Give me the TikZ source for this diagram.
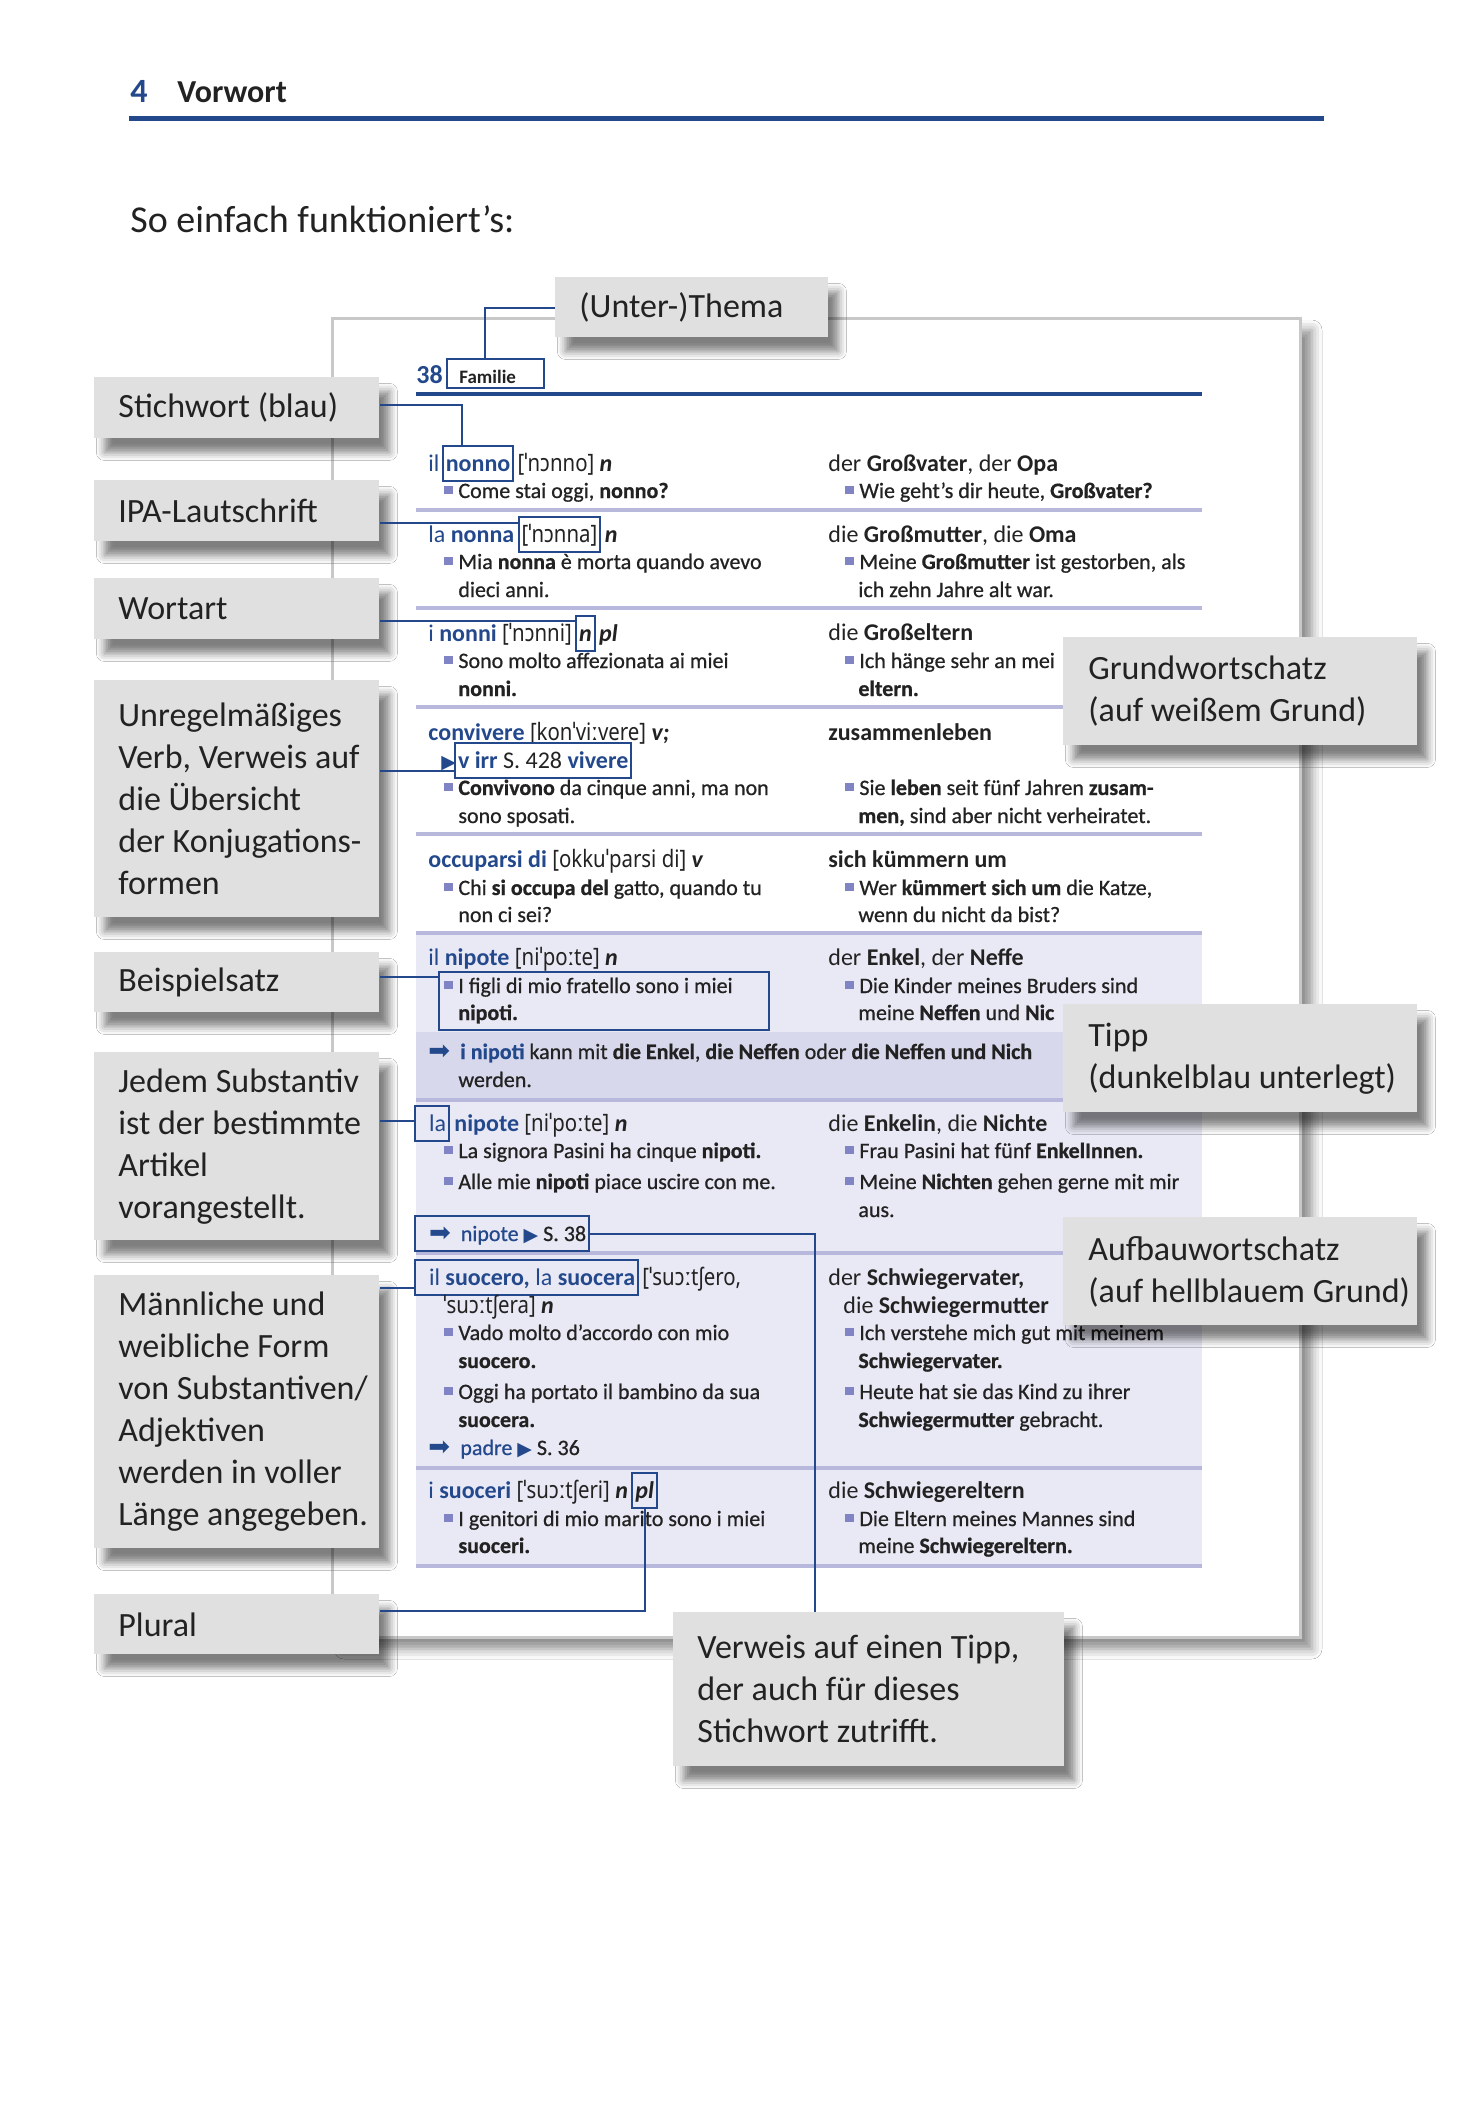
\documentclass[tikz,border=0pt]{standalone}
\usepackage{fontspec}
\setmainfont{Carlito}
\newfontfamily\exfont[FakeBold=0.7]{Carlito}
\newfontfamily\ipafont[FakeStretch=0.85]{Noto Sans}
\newfontfamily\symfont{DejaVu Sans}
\usetikzlibrary{shadows.blur}
\definecolor{dblue}{RGB}{35,73,140}
\definecolor{cgrey}{RGB}{224,224,224}
\definecolor{pborder}{RGB}{200,200,200}
\definecolor{sepl}{RGB}{184,184,220}
\definecolor{lbg}{RGB}{233,233,245}
\definecolor{tbg}{RGB}{216,216,236}
\definecolor{bulc}{RGB}{128,132,196}
\definecolor{txt}{RGB}{34,34,34}
\newcommand\hwc[1]{\textcolor{dblue}{#1}}
\newcommand\hwbc[1]{\textcolor{dblue}{\bfseries #1}}
\newcommand\ipat[1]{{\ipafont #1}}
\newcommand\wpos[1]{\textbf{\textit{#1}}}
\newcommand\mybul{\textcolor{bulc}{\rule[1.8pt]{4.3pt}{4.3pt}}\hspace{2.7pt}}
\newcommand\myarr{{\symfont\fontsize{13}{13}\selectfont\textcolor{dblue}{➡}}}
\newcommand\mytri{{\symfont\fontsize{9.5}{9.5}\selectfont\textcolor{dblue}{▶}}}
\tikzset{
  callout/.style={fill=cgrey, inner sep=0, anchor=north west,
    blur shadow={shadow xshift=5pt, shadow yshift=-7pt, shadow blur radius=4pt, shadow opacity=50}},
  ctext/.style={inner sep=0, anchor=west, align=left, text=txt, font=\fontsize{17}{21}\selectfont},
  hw/.style={inner sep=0, anchor=base west, text=txt, font=\fontsize{12}{14}\selectfont},
  ex/.style={inner sep=0, anchor=base west, text=txt, font=\exfont\fontsize{11}{14}\selectfont},
  hwbox/.style={hw, draw=dblue, line width=1pt, inner xsep=1.5pt, inner ysep=2.5pt, text height=10pt, text depth=2.5pt},
  hlrect/.style={draw=dblue, line width=1pt, inner sep=0, anchor=north west},
  conn/.style={draw=dblue, line width=1pt},
  sepline/.style={draw=sepl, line width=2pt},
}
\newcommand\mycallout[7]{%
  \node[callout, minimum width=#4pt, minimum height=#5pt] (#1) at (#2,#3) {};
  \node[ctext] (#1t) at ([xshift=#6pt]#1.west) {#7};}
\begin{document}
\begin{tikzpicture}[x=0.5pt,y=-0.5pt]
\fill[white] (0,0) rectangle (1477,2126);
\useasboundingbox (0,0) rectangle (1477,2126);

% header
\node[inner sep=0, anchor=base west, font=\bfseries\fontsize{17}{20}\selectfont, text=dblue] (pnum) at (130,102) {4};
\node[inner sep=0, anchor=base west, font=\bfseries\fontsize{16}{20}\selectfont, text=txt] (ptitle) at (177,102) {Vorwort};
\draw[dblue, line width=2.5pt] (129,118) -- (1324,118);
\node[inner sep=0, anchor=base west, font=\fontsize{19}{22}\selectfont, text=txt] (intro) at (130,232) {So einfach funktioniert’s:};

% page card
\path[draw=pborder, line width=1.5pt, fill=white,
  blur shadow={shadow xshift=6pt, shadow yshift=-6pt, shadow blur radius=5pt, shadow opacity=45}]
  (332,318) rectangle (1300,1637);

% backgrounds and separators
\fill[lbg] (416,933) rectangle (1202,1566);
\fill[tbg] (416,1032) rectangle (1202,1100);
\foreach \yy in {510,608,707,834,933,1100,1253,1468,1566}
  \draw[sepline] (416,\yy) -- (1202,\yy);

% page header
\node[inner sep=0, anchor=base west, font=\bfseries\fontsize{13}{14}\selectfont, text=dblue] (n38) at (416,383) {38};
\node[hlrect, minimum width=48.5pt, minimum height=14.5pt] (bfam) at (446,358) {};
\node[inner sep=0, anchor=base west, font=\bfseries\fontsize{9.5}{11}\selectfont, text=txt] (tfam) at (459,383) {Familie};
\draw[dblue, line width=2pt] (416,394) -- (1202,394);

% ---------- left column ----------
\node[hw] (l1a) at (428,471) {\hwc{il}};
\node[hwbox] (bnonno) at ([xshift=1pt]l1a.base east) {\hwbc{nonno}};
\node[hw] (l1c) at ([xshift=1.5pt]bnonno.base east) {\ipat{[ˈnɔnno]} \wpos{n}};
\node[ex] (l2) at (444,498) {\mybul Come stai oggi, \textbf{nonno?}};

\node[hw] (l3a) at (428,542) {\hwc{la} \hwbc{nonna}};
\node[hwbox] (bipa) at ([xshift=1.5pt]l3a.base east) {\ipat{[ˈnɔnna]}};
\node[hw] (l3c) at ([xshift=1.5pt]bipa.base east) {\wpos{n}};
\node[ex] (l4) at (444,569) {\mybul Mia \textbf{nonna} è morta quando avevo};
\node[ex] (l4b) at (458,597) {dieci anni.};

\node[hw] (l5a) at (428,641) {\hwc{i} \hwbc{nonni} \ipat{[ˈnɔnni]}};
\node[hwbox] (bn) at ([xshift=1.5pt]l5a.base east) {\wpos{n}};
\node[hw] (l5c) at ([xshift=1.5pt]bn.base east) {\wpos{pl}};
\node[ex] (l6) at (444,668) {\mybul Sono molto affezionata ai miei};
\node[ex] (l6b) at (458,696) {\textbf{nonni.}};

\node[hw] (l7) at (428,740) {\hwbc{convivere} \ipat{[konˈviːvere]} \wpos{v;}};
\node[hw] (l8a) at (441,768) {\mytri};
\node[hwbox] (bvirr) at (454,768) {\hwbc{v}~\hwbc{irr} S. 428 \hwbc{vivere}};
\node[ex] (l9) at (444,795) {\mybul \textbf{Convivono} da cinque anni, ma non};
\node[ex] (l9b) at (458,823) {sono sposati.};

\node[hw] (l10) at (428,867) {\hwbc{occuparsi di} \ipat{[okkuˈparsi di]} \wpos{v}};
\node[ex] (l11) at (444,895) {\mybul Chi \textbf{si occupa del} gatto, quando tu};
\node[ex] (l11b) at (458,922) {non ci sei?};

\node[hw] (l12) at (428,965) {\hwc{il} \hwbc{nipote} \ipat{[niˈpoːte]} \wpos{n}};
\node[ex] (l13) at (444,993) {\mybul I figli di mio fratello sono i miei};
\node[ex] (l13b) at (458,1020) {\textbf{nipoti.}};
\node[hlrect, minimum width=165pt, minimum height=29pt] (bex) at (438,971) {};

\node[hw] (tarr) at (428,1059) {\myarr};
\node[ex] (tip1) at (460,1059) {\hwbc{i nipoti} kann mit \textbf{die Enkel}, \textbf{die Neffen} oder \textbf{die Neffen und Nich}};
\node[ex] (tip2) at (458,1087) {werden.};

\node[hwbox] (bla) at (414,1131) {\hspace{5.5pt}\hwc{la}};
\node[hw] (l15b) at ([xshift=2pt]bla.base east) {\hwbc{nipote} \ipat{[niˈpoːte]} \wpos{n}};
\node[ex] (l16) at (444,1158) {\mybul La signora Pasini ha cinque \textbf{nipoti.}};
\node[ex] (l17) at (444,1189) {\mybul Alle mie \textbf{nipoti} piace uscire con me.};
\node[hwbox, font=\exfont\fontsize{11}{14}\selectfont] (bnref) at (414,1241) {\hspace{5.5pt}\myarr\hspace{5pt}\hwc{nipote} \mytri\ S. 38\hspace{9pt}};

\node[hwbox] (bsuoc) at (414,1285) {\hspace{5.5pt}\hwc{il} \hwbc{suocero,} \hwc{la} \hwbc{suocera}};
\node[hw] (l19b) at ([xshift=1.5pt]bsuoc.base east) {\ipat{[ˈsuɔːtʃero,}};
\node[hw] (l20) at (443,1313) {\ipat{ˈsuɔːtʃera]} \wpos{n}};
\node[ex] (l21) at (444,1340) {\mybul Vado molto d’accordo con mio};
\node[ex] (l21b) at (458,1368) {\textbf{suocero.}};
\node[ex] (l22) at (444,1399) {\mybul Oggi ha portato il bambino da sua};
\node[ex] (l22b) at (458,1427) {\textbf{suocera.}};
\node[hw] (parr) at (428,1455) {\myarr};
\node[ex] (pref) at (460,1455) {\hwc{padre} \mytri\ S. 36};

\node[hw] (l24a) at (428,1498) {\hwc{i} \hwbc{suoceri} \ipat{[ˈsuɔːtʃeri]} \wpos{n}};
\node[hwbox] (bpl) at ([xshift=1.5pt]l24a.base east) {\wpos{pl}};
\node[ex] (l25) at (444,1526) {\mybul I genitori di mio marito sono i miei};
\node[ex] (l25b) at (458,1553) {\textbf{suoceri.}};

% ---------- right column ----------
\node[hw] (r1) at (828,471) {der \textbf{Großvater}, der \textbf{Opa}};
\node[ex] (r2) at (845,498) {\mybul Wie geht’s dir heute, \textbf{Großvater?}};
\node[hw] (r3) at (828,542) {die \textbf{Großmutter}, die \textbf{Oma}};
\node[ex] (r4) at (845,569) {\mybul Meine \textbf{Großmutter} ist gestorben, als};
\node[ex] (r4b) at (858,597) {ich zehn Jahre alt war.};
\node[hw] (r5) at (828,640) {die \textbf{Großeltern}};
\node[ex] (r6) at (845,668) {\mybul Ich hänge sehr an mei};
\node[ex] (r6b) at (858,696) {\textbf{eltern.}};
\node[hw] (r7) at (828,740) {\textbf{zusammenleben}};
\node[ex] (r8) at (845,795) {\mybul Sie \textbf{leben} seit fünf Jahren \textbf{zusam-}};
\node[ex] (r8b) at (858,823) {\textbf{men,} sind aber nicht verheiratet.};
\node[hw] (r9) at (828,867) {\textbf{sich kümmern um}};
\node[ex] (r10) at (845,895) {\mybul Wer \textbf{kümmert sich um} die Katze,};
\node[ex] (r10b) at (858,922) {wenn du nicht da bist?};
\node[hw] (r11) at (828,965) {der \textbf{Enkel}, der \textbf{Neffe}};
\node[ex] (r12) at (845,993) {\mybul Die Kinder meines Bruders sind};
\node[ex] (r12b) at (858,1020) {meine \textbf{Neffen} und \textbf{Nic}};
\node[hw] (r13) at (828,1131) {die \textbf{Enkelin}, die \textbf{Nichte}};
\node[ex] (r14) at (845,1158) {\mybul Frau Pasini hat fünf \textbf{EnkelInnen.}};
\node[ex] (r15) at (845,1189) {\mybul Meine \textbf{Nichten} gehen gerne mit mir};
\node[ex] (r15b) at (858,1217) {aus.};
\node[hw] (r16) at (828,1285) {der \textbf{Schwiegervater,}};
\node[hw] (r16b) at (843,1313) {die \textbf{Schwiegermutter}};
\node[ex] (r17) at (845,1340) {\mybul Ich verstehe mich gut mit meinem};
\node[ex] (r17b) at (858,1368) {\textbf{Schwiegervater.}};
\node[ex] (r18) at (845,1399) {\mybul Heute hat sie das Kind zu ihrer};
\node[ex] (r18b) at (858,1427) {\textbf{Schwiegermutter} gebracht.};
\node[hw] (r19) at (828,1498) {die \textbf{Schwiegereltern}};
\node[ex] (r20) at (845,1526) {\mybul Die Eltern meines Mannes sind};
\node[ex] (r20b) at (858,1553) {meine \textbf{Schwiegereltern.}};

% ---------- callouts ----------
\mycallout{cthema}{555}{277}{136.5}{30}{12}{(Unter-)Thema}
\mycallout{cstich}{94}{377}{142.5}{30.5}{12}{Stichwort (blau)}
\mycallout{cipa}{94}{480}{142.5}{30.5}{12}{IPA-Lautschrift}
\mycallout{cwort}{94}{578}{142.5}{30.5}{12}{Wortart}
\mycallout{cunreg}{94}{680}{142.5}{118.5}{12}{Unregelmäßiges\\Verb, Verweis auf\\die Übersicht\\der Konjugations-\\formen}
\mycallout{cbeisp}{94}{952}{142.5}{30}{12}{Beispielsatz}
\mycallout{cjedem}{94}{1052}{142.5}{94}{12}{Jedem Substantiv\\ist der bestimmte\\Artikel\\vorangestellt.}
\mycallout{cmannl}{94}{1275}{142.5}{136.5}{12}{Männliche und\\weibliche Form\\von Substantiven/\\Adjektiven\\werden in voller\\Länge angegeben.}
\mycallout{cplural}{94}{1594}{142.5}{30}{12}{Plural}
\mycallout{cgrund}{1063}{637}{177}{54}{12.5}{Grundwortschatz\\(auf weißem Grund)}
\mycallout{ctipp}{1063}{1004}{177}{54}{12.5}{Tipp\\(dunkelblau unterlegt)}
\mycallout{caufbau}{1063}{1217}{177}{54}{12.5}{Aufbauwortschatz\\(auf hellblauem Grund)}
\mycallout{cverw}{673}{1612}{195.5}{77}{12}{Verweis auf einen Tipp,\\der auch für dieses\\Stichwort zutrifft.}

% ---------- connectors ----------
\draw[conn] (cthema.west |- 0,308) -| ([xshift=19.5pt]bfam.north west);
\draw[conn] (cstich.east |- 0,405) -| ([xshift=10pt]bnonno.north west);
\draw[conn] (cipa.east |- 0,523) -- (bipa.west |- 0,523);
\draw[conn] (cwort.east |- 0,621) -- (bn.west |- 0,621);
\draw[conn] (cunreg.east |- 0,771) -- (bvirr.west |- 0,771);
\draw[conn] (cbeisp.east |- 0,977) -- (bex.west |- 0,977);
\draw[conn] (cjedem.east |- 0,1121) -- (bla.west |- 0,1121);
\draw[conn] (cmannl.east |- 0,1288) -- (bsuoc.west |- 0,1288);
\coordinate (kv) at (815,1234);
\draw[conn] (bnref.east |- kv) -- (kv) -- (kv |- cverw.north);
\coordinate (kp) at (0,1611);
\draw[conn] (bpl.south) -- (bpl.south |- kp) -- (cplural.east |- kp);
\end{tikzpicture}
\end{document}
